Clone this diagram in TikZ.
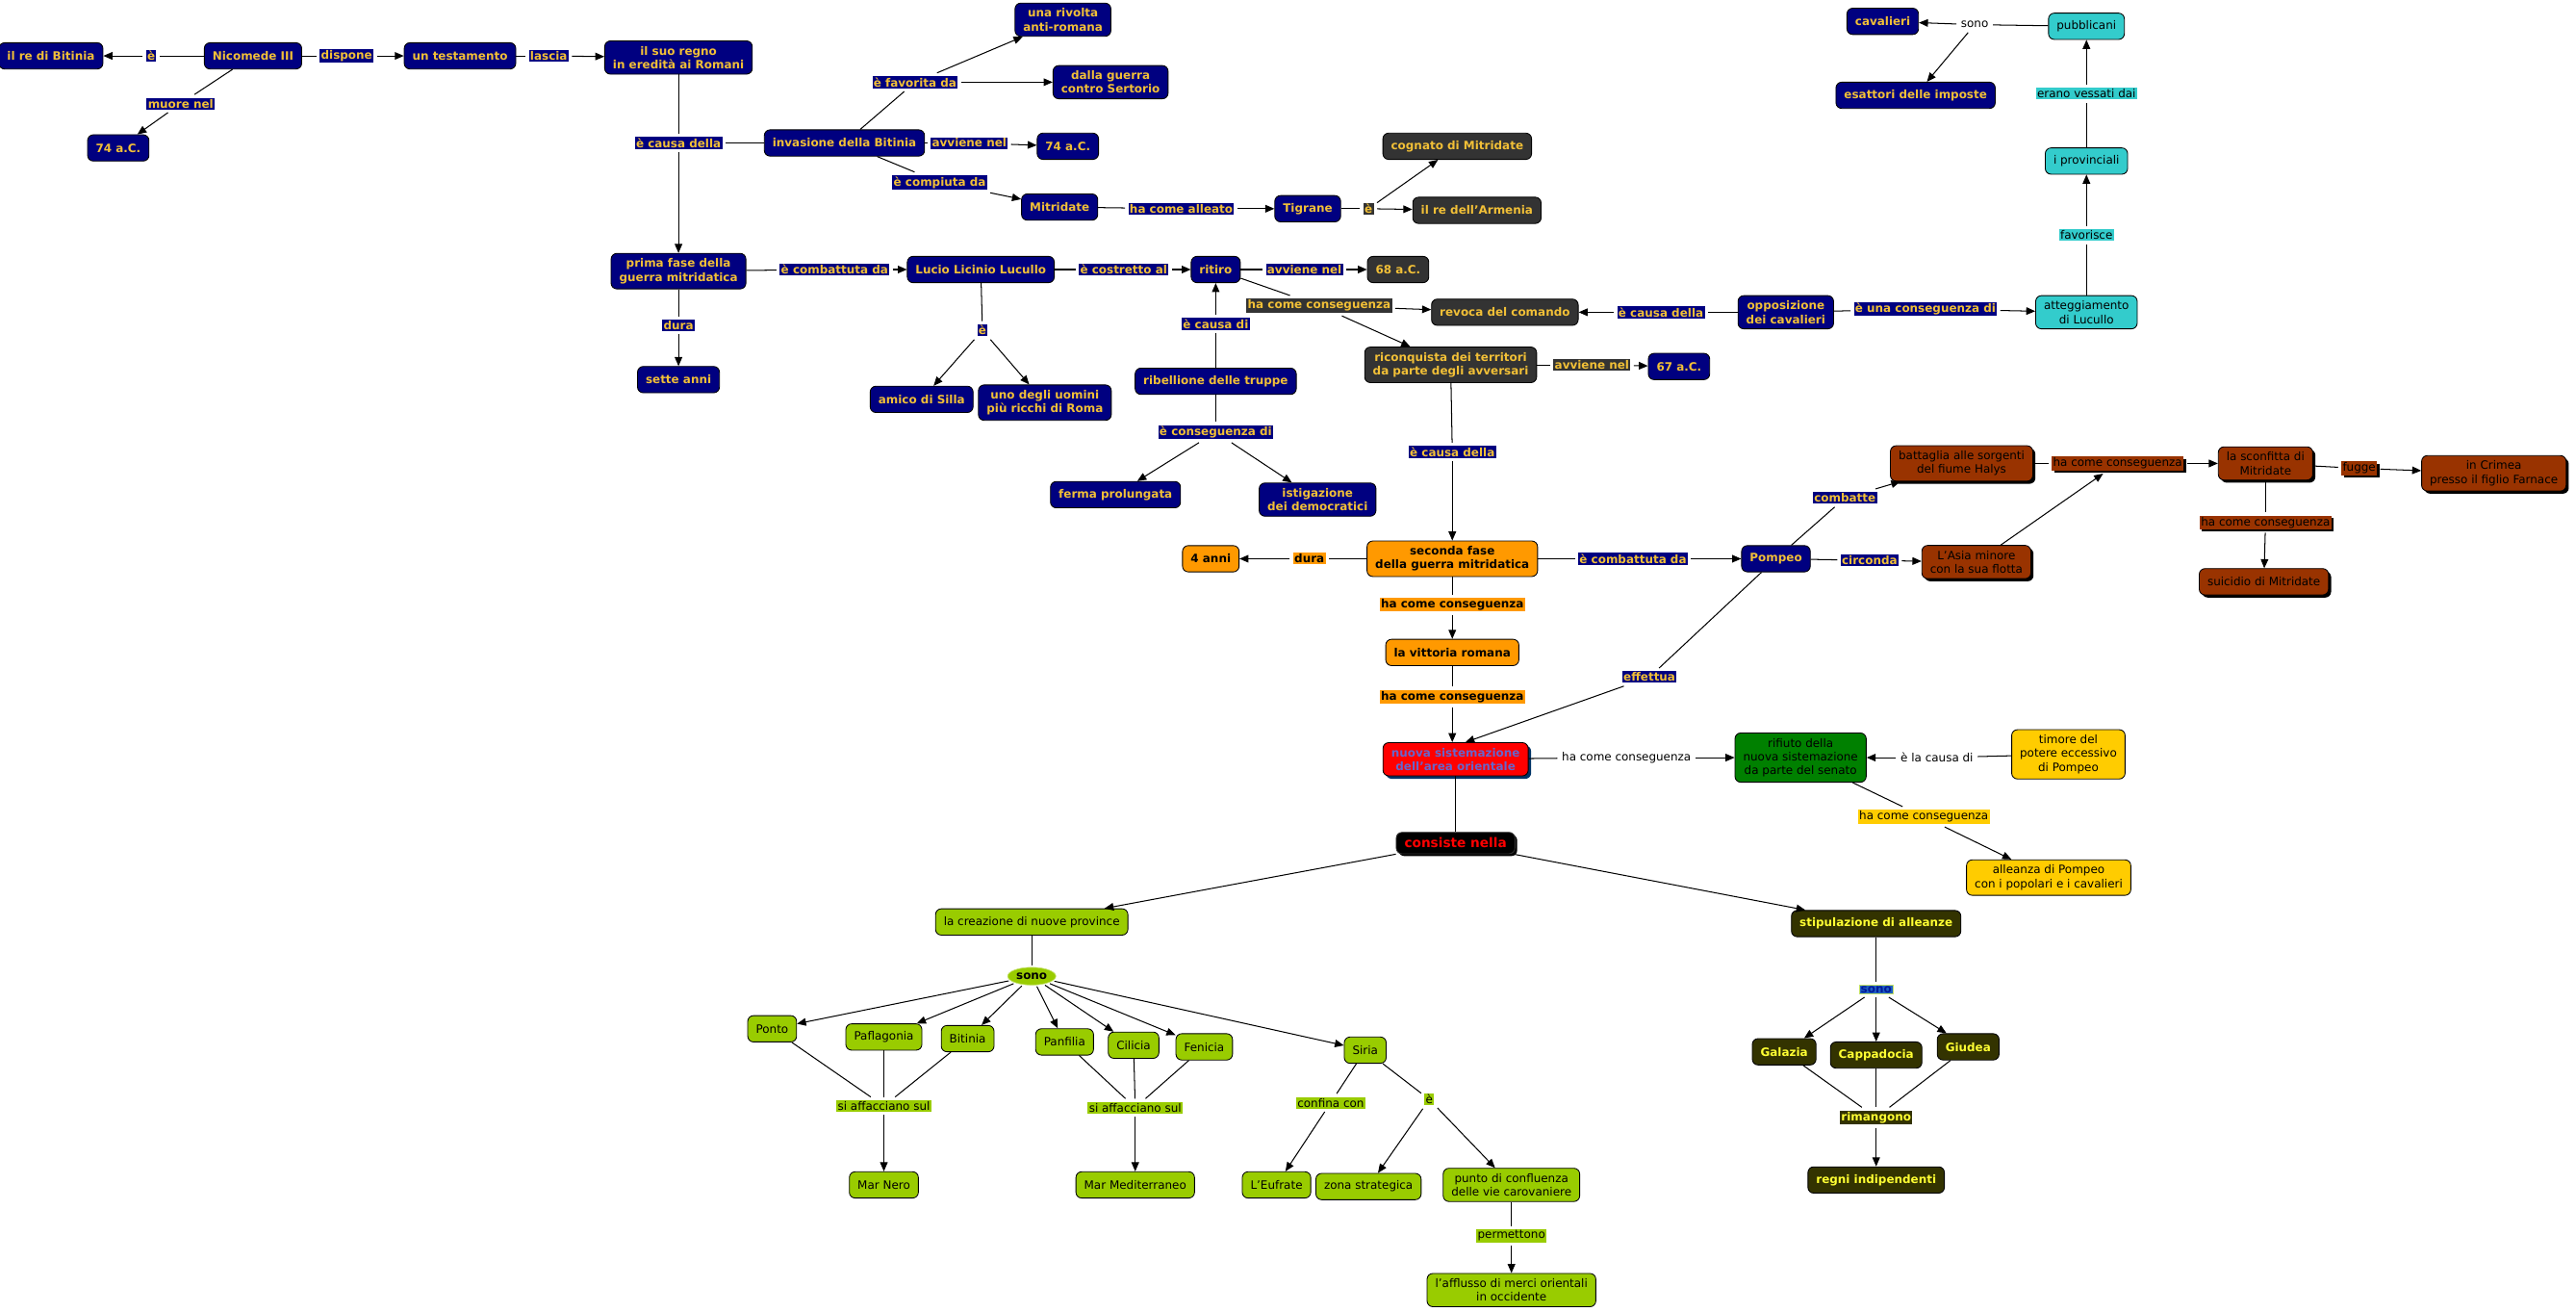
\documentclass[tikz,border=0pt]{standalone}
\usepackage{fontspec}
\setmainfont{DejaVu Sans}
\usetikzlibrary{arrows.meta,shadows,shapes.geometric}
\definecolor{mapnavy}{HTML}{000080}
\definecolor{mapgold}{HTML}{F2C037}
\definecolor{mapgray}{HTML}{333333}
\definecolor{mapcyan}{HTML}{33CCCC}
\definecolor{maporange}{HTML}{FF9900}
\definecolor{mapbrown}{HTML}{993300}
\definecolor{mapgreen}{HTML}{008000}
\definecolor{mapyellow}{HTML}{FFCC00}
\definecolor{mapolive}{HTML}{333300}
\definecolor{mapolivetext}{HTML}{FFFF33}
\definecolor{maplime}{HTML}{99CC00}
\definecolor{mapred}{HTML}{FF0000}
\definecolor{mapviolet}{HTML}{6666CC}
\definecolor{mapshadow}{HTML}{003366}
\definecolor{sonoblue}{HTML}{2060C0}
\definecolor{sonotext}{HTML}{001A99}

\begin{document}
\begin{tikzpicture}[
  x=1pt,
  y=-1pt,
  every node/.style={font=\fontsize{7}{8.4}\selectfont},
  concept/.style={draw=black,line width=0.5pt,rounded corners=3.5pt,align=center,
    inner xsep=5pt,inner ysep=3.2pt,minimum height=16pt},
  navybox/.style={concept,fill=mapnavy,text=mapgold,font=\fontsize{7}{8.4}\selectfont\bfseries},
  graybox/.style={concept,fill=mapgray,text=mapgold,font=\fontsize{7}{8.4}\selectfont\bfseries},
  cyanbox/.style={concept,fill=mapcyan,text=black},
  orangebox/.style={concept,fill=maporange,text=black,font=\fontsize{7}{8.4}\selectfont\bfseries},
  brownbox/.style={concept,fill=mapbrown,text=black,
    drop shadow={shadow xshift=1.6pt,shadow yshift=-1.6pt,opacity=1,fill=black}},
  greenbox/.style={concept,fill=mapgreen,text=black},
  yellowbox/.style={concept,fill=mapyellow,text=black},
  olivebox/.style={concept,fill=mapolive,text=mapolivetext,font=\fontsize{7}{8.4}\selectfont\bfseries},
  limebox/.style={concept,fill=maplime,text=black},
  redbox/.style={concept,fill=mapred,text=mapviolet,font=\fontsize{7}{8.4}\selectfont\bfseries,
    drop shadow={shadow xshift=1.8pt,shadow yshift=-1.8pt,opacity=1,fill=mapshadow}},
  link/.style={inner sep=0.8pt,outer sep=2pt,align=center},
  navylink/.style={link,fill=mapnavy,text=mapgold,font=\fontsize{7}{8.4}\selectfont\bfseries},
  graylink/.style={link,fill=mapgray,text=mapgold,font=\fontsize{7}{8.4}\selectfont\bfseries},
  cyanlink/.style={link,fill=mapcyan,text=black},
  orangelink/.style={link,fill=maporange,text=black,font=\fontsize{7}{8.4}\selectfont\bfseries},
  brownlink/.style={link,fill=mapbrown,text=black,
    drop shadow={shadow xshift=1.4pt,shadow yshift=-1.4pt,opacity=1,fill=black}},
  yellowlink/.style={link,fill=mapyellow,text=black},
  limelink/.style={link,fill=maplime,text=black},
  olivelink/.style={link,fill=mapolive,text=mapolivetext,font=\fontsize{7}{8.4}\selectfont\bfseries},
  plainlink/.style={link,fill=white,text=black},
  conn/.style={draw=black,line width=0.6pt},
  arr/.style={conn,-{Triangle[length=5.5pt,width=4.6pt]}}
]
  \useasboundingbox (0,0) rectangle (1568,798);

  % Nicomede and the will
  \node[navybox] (rebitinia) at (31,34) {il re di Bitinia};
  \node[navybox] (nicomede) at (154,34) {Nicomede III};
  \node[navybox] (testamento) at (280,34) {un testamento};
  \node[navybox] (regno) at (413,35) {il suo regno\\in eredità ai Romani};
  \node[navybox] (anno74a) at (72,90) {74 a.C.};
  \node[navylink] (l_e1) at (92,34) {è};
  \node[navylink] (l_dispone) at (211,34) {dispone};
  \node[navylink] (l_lascia) at (334,34) {lascia};
  \node[navylink] (l_muore) at (110,63) {muore nel};

  % First phase of the war
  \node[navylink] (l_causa1) at (413,87) {è causa della};
  \node[navybox] (invasione) at (514,87) {invasione della Bitinia};
  \node[navybox] (prima) at (413,165) {prima fase della\\guerra mitridatica};
  \node[navylink] (l_dura1) at (413,198) {dura};
  \node[navybox] (sette) at (413,231) {sette anni};
  \node[navylink] (l_favorita) at (557,50) {è favorita da};
  \node[navybox] (rivolta) at (647,12) {una rivolta\\anti-romana};
  \node[navybox] (sertorio) at (676,50) {dalla guerra\\contro Sertorio};
  \node[navylink] (l_avviene1) at (590,87) {avviene nel};
  \node[navybox] (anno74b) at (650,89) {74 a.C.};
  \node[navylink] (l_compiuta) at (572,111) {è compiuta da};
  \node[navybox] (mitridate) at (645,126) {Mitridate};
  \node[navylink] (l_alleato) at (719,127) {ha come alleato};
  \node[navybox] (tigrane) at (796,127) {Tigrane};
  \node[graylink] (l_e2) at (833,127) {è};
  \node[graybox] (cognato) at (887,89) {cognato di Mitridate};
  \node[graybox] (armenia) at (899,128) {il re dell'Armenia};

  % Lucullo
  \node[navylink] (l_combattuta1) at (508,164) {è combattuta da};
  \node[navybox] (lucullo) at (597,164) {Lucio Licinio Lucullo};
  \node[navylink] (l_costretto) at (684,164) {è costretto al};
  \node[navybox] (ritiro) at (740,164) {ritiro};
  \node[navylink] (l_avviene2) at (794,164) {avviene nel};
  \node[graybox] (anno68) at (851,164) {68 a.C.};
  \node[graylink] (l_conseg1) at (803,186) {ha come conseguenza};
  \node[graybox] (revoca) at (916,190) {revoca del comando};
  \node[graybox] (riconquista) at (883,222) {riconquista dei territori\\da parte degli avversari};
  \node[graylink] (l_avviene3) at (969,222) {avviene nel};
  \node[navybox] (anno67) at (1022,223) {67 a.C.};
  \node[navylink] (l_e3) at (598,201) {è};
  \node[navybox] (amico) at (561,243) {amico di Silla};
  \node[navybox] (uomini) at (636,245) {uno degli uomini\\più ricchi di Roma};
  \node[navylink] (l_causadi) at (740,197) {è causa di};
  \node[navybox] (ribellione) at (740,232) {ribellione delle truppe};
  \node[navylink] (l_conseguenzadi) at (740,263) {è conseguenza di};
  \node[navybox] (ferma) at (679,301) {ferma prolungata};
  \node[navybox] (istigazione) at (802,304) {istigazione\\dei democratici};

  % Knights and provincials
  \node[navylink] (l_causa2) at (1011,190) {è causa della};
  \node[navybox] (opposizione) at (1087,190) {opposizione\\dei cavalieri};
  \node[navylink] (l_unacons) at (1172,188) {è una conseguenza di};
  \node[cyanbox] (atteggiamento) at (1270,190) {atteggiamento\\di Lucullo};
  \node[cyanlink] (l_favorisce) at (1270,143) {favorisce};
  \node[cyanbox] (provinciali) at (1270,98) {i provinciali};
  \node[cyanlink] (l_vessati) at (1270,57) {erano vessati dai};
  \node[cyanbox] (pubblicani) at (1270,16) {pubblicani};
  \node[plainlink] (l_sono1) at (1202,15) {sono};
  \node[navybox] (cavalieri) at (1146,13) {cavalieri};
  \node[navybox] (esattori) at (1166,58) {esattori delle imposte};

  % Second phase and Pompeo
  \node[navylink] (l_causa3) at (884,275) {è causa della};
  \node[orangebox] (seconda) at (884,340) {seconda fase\\della guerra mitridatica};
  \node[orangelink] (l_dura2) at (797,340) {dura};
  \node[orangebox] (anni4) at (737,340) {4 anni};
  \node[navylink] (l_combattuta2) at (994,340) {è combattuta da};
  \node[navybox] (pompeo) at (1081,340) {Pompeo};
  \node[orangelink] (l_conseg2) at (884,368) {ha come conseguenza};
  \node[orangebox] (vittoria) at (884,397) {la vittoria romana};
  \node[orangelink] (l_conseg3) at (884,424) {ha come conseguenza};
  \node[redbox] (nuova) at (886,462) {nuova sistemazione\\dell'area orientale};
  \node[navylink] (l_effettua) at (1004,412) {effettua};
  \node[navylink] (l_combatte) at (1123,303) {combatte};
  \node[brownbox] (battaglia) at (1194,282) {battaglia alle sorgenti\\del fiume Halys};
  \node[navylink] (l_circonda) at (1138,341) {circonda};
  \node[brownbox] (asia) at (1203,342) {L'Asia minore\\con la sua flotta};
  \node[brownlink] (l_conseg4) at (1289,282) {ha come conseguenza};
  \node[brownbox] (sconfitta) at (1379,282) {la sconfitta di\\Mitridate};
  \node[brownlink] (l_fugge) at (1436,285) {fugge};
  \node[brownbox] (crimea) at (1518,288) {in Crimea\\presso il figlio Farnace};
  \node[brownlink] (l_conseg5) at (1379,318) {ha come conseguenza};
  \node[brownbox] (suicidio) at (1378,354) {suicidio di Mitridate};

  % Senate and alliances
  \node[plainlink] (l_conseg6) at (990,461) {ha come conseguenza};
  \node[greenbox] (rifiuto) at (1096,461) {rifiuto della\\nuova sistemazione\\da parte del senato};
  \node[plainlink] (l_lacausa) at (1179,461) {è la causa di};
  \node[yellowbox] (timore) at (1259,459) {timore del\\potere eccessivo\\di Pompeo};
  \node[yellowlink] (l_conseg7) at (1171,497) {ha come conseguenza};
  \node[yellowbox] (alleanza) at (1247,534) {alleanza di Pompeo\\con i popolari e i cavalieri};
  \node[concept,fill=black,draw=mapgray,text=mapred,font=\fontsize{8}{9.5}\selectfont\bfseries,
    inner ysep=1.5pt,minimum height=13pt,
    drop shadow={shadow xshift=1.4pt,shadow yshift=-1.4pt,opacity=1,fill=black}]
    (consiste) at (886,513) {consiste nella};

  % New provinces
  \node[limebox] (creazione) at (628,561) {la creazione di nuove province};
  \node[ellipse,fill=maplime,draw=maplime!55!white,inner xsep=1pt,inner ysep=1.8pt,
    outer sep=1pt,font=\fontsize{7}{8.4}\selectfont\bfseries] (l_sono2) at (628,594) {sono};
  \node[limebox] (ponto) at (470,626) {Ponto};
  \node[limebox] (paflagonia) at (538,631) {Paflagonia};
  \node[limebox] (bitinia) at (589,632) {Bitinia};
  \node[limebox] (panfilia) at (648,634) {Panfilia};
  \node[limebox] (cilicia) at (690,636) {Cilicia};
  \node[limebox] (fenicia) at (733,637) {Fenicia};
  \node[limebox] (siria) at (831,639) {Siria};
  \node[limelink] (l_affaccia1) at (538,673) {si affacciano sul};
  \node[limelink] (l_affaccia2) at (691,674) {si affacciano sul};
  \node[limebox] (marnero) at (538,721) {Mar Nero};
  \node[limebox] (marmed) at (691,721) {Mar Mediterraneo};
  \node[limelink] (l_confina) at (810,671) {confina con};
  \node[limelink] (l_e4) at (870,669) {è};
  \node[limebox] (eufrate) at (777,721) {L'Eufrate};
  \node[limebox] (strategica) at (833,722) {zona strategica};
  \node[limebox] (confluenza) at (920,721) {punto di confluenza\\delle vie carovaniere};
  \node[limelink] (l_permettono) at (920,752) {permettono};
  \node[limebox] (afflusso) at (920,785) {l'afflusso di merci orientali\\in occidente};

  % Allied kingdoms
  \node[olivebox] (stipulazione) at (1142,562) {stipulazione di alleanze};
  \node[link,fill=sonoblue,draw=maplime!60!white,text=sonotext,
    font=\fontsize{7}{8.4}\selectfont\bfseries] (l_sono3) at (1142,602) {sono};
  \node[olivebox] (galazia) at (1086,640) {Galazia};
  \node[olivebox] (cappadocia) at (1142,642) {Cappadocia};
  \node[olivebox] (giudea) at (1198,637) {Giudea};
  \node[olivelink] (l_rimangono) at (1142,680) {rimangono};
  \node[olivebox] (regni) at (1142,718) {regni indipendenti};

  % Connectors
  \draw[conn] (nicomede) -- (l_e1);
  \draw[arr] (l_e1) -- (rebitinia);
  \draw[conn] (nicomede) -- (l_dispone);
  \draw[arr] (l_dispone) -- (testamento);
  \draw[conn] (testamento) -- (l_lascia);
  \draw[arr] (l_lascia) -- (regno);
  \draw[conn] (nicomede) -- (l_muore);
  \draw[arr] (l_muore) -- (anno74a);
  \draw[conn] (regno) -- (l_causa1);
  \draw[conn] (invasione) -- (l_causa1);
  \draw[arr] (l_causa1) -- (prima);
  \draw[conn] (prima) -- (l_dura1);
  \draw[arr] (l_dura1) -- (sette);
  \draw[conn] (invasione) -- (l_favorita);
  \draw[arr] (l_favorita) -- (rivolta);
  \draw[arr] (l_favorita) -- (sertorio);
  \draw[conn] (invasione) -- (l_avviene1);
  \draw[arr] (l_avviene1) -- (anno74b);
  \draw[conn] (invasione) -- (l_compiuta);
  \draw[arr] (l_compiuta) -- (mitridate);
  \draw[conn] (mitridate) -- (l_alleato);
  \draw[arr] (l_alleato) -- (tigrane);
  \draw[conn] (tigrane) -- (l_e2);
  \draw[arr] (l_e2) -- (cognato);
  \draw[arr] (l_e2) -- (armenia);
  \draw[conn] (prima) -- (l_combattuta1);
  \draw[arr] (l_combattuta1) -- (lucullo);
  \draw[conn] (lucullo) -- (l_costretto);
  \draw[arr] (l_costretto) -- (ritiro);
  \draw[conn] (ritiro) -- (l_avviene2);
  \draw[arr] (l_avviene2) -- (anno68);
  \draw[conn] (ritiro) -- (l_conseg1);
  \draw[arr] (l_conseg1) -- (revoca);
  \draw[arr] (l_conseg1) -- (riconquista);
  \draw[conn] (lucullo) -- (l_e3);
  \draw[arr] (l_e3) -- (amico);
  \draw[arr] (l_e3) -- (uomini);
  \draw[conn] (ribellione) -- (l_causadi);
  \draw[arr] (l_causadi) -- (ritiro);
  \draw[conn] (ribellione) -- (l_conseguenzadi);
  \draw[arr] (l_conseguenzadi) -- (ferma);
  \draw[arr] (l_conseguenzadi) -- (istigazione);
  \draw[conn] (opposizione) -- (l_causa2);
  \draw[arr] (l_causa2) -- (revoca);
  \draw[conn] (riconquista) -- (l_avviene3);
  \draw[arr] (l_avviene3) -- (anno67);
  \draw[conn] (riconquista) -- (l_causa3);
  \draw[arr] (l_causa3) -- (seconda);
  \draw[conn] (opposizione) -- (l_unacons);
  \draw[arr] (l_unacons) -- (atteggiamento);
  \draw[conn] (atteggiamento) -- (l_favorisce);
  \draw[arr] (l_favorisce) -- (provinciali);
  \draw[conn] (provinciali) -- (l_vessati);
  \draw[arr] (l_vessati) -- (pubblicani);
  \draw[conn] (pubblicani) -- (l_sono1);
  \draw[arr] (l_sono1) -- (cavalieri);
  \draw[arr] (l_sono1) -- (esattori);
  \draw[conn] (seconda) -- (l_dura2);
  \draw[arr] (l_dura2) -- (anni4);
  \draw[conn] (seconda) -- (l_combattuta2);
  \draw[arr] (l_combattuta2) -- (pompeo);
  \draw[conn] (seconda) -- (l_conseg2);
  \draw[arr] (l_conseg2) -- (vittoria);
  \draw[conn] (vittoria) -- (l_conseg3);
  \draw[arr] (l_conseg3) -- (l_conseg3 |- nuova.north);
  \draw[conn] (pompeo) -- (l_effettua);
  \draw[arr] (l_effettua) -- ([xshift=6pt]nuova.north);
  \draw[conn] (pompeo) -- (l_combatte);
  \draw[arr] (l_combatte) -- (battaglia);
  \draw[conn] (pompeo) -- (l_circonda);
  \draw[arr] (l_circonda) -- (asia);
  \draw[conn] (battaglia) -- (l_conseg4);
  \draw[arr] (asia) -- (l_conseg4);
  \draw[arr] (l_conseg4) -- (sconfitta);
  \draw[conn] (sconfitta) -- (l_fugge);
  \draw[arr] (l_fugge) -- (crimea);
  \draw[conn] (sconfitta) -- (l_conseg5);
  \draw[arr] (l_conseg5) -- (suicidio);
  \draw[conn] (nuova) -- (l_conseg6);
  \draw[arr] (l_conseg6) -- (rifiuto);
  \draw[conn] (timore) -- (l_lacausa);
  \draw[arr] (l_lacausa) -- (rifiuto);
  \draw[conn] (rifiuto) -- (l_conseg7);
  \draw[arr] (l_conseg7) -- (alleanza);
  \draw[conn] (nuova) -- (consiste);
  \draw[arr] (consiste) -- (creazione);
  \draw[arr] (consiste) -- (stipulazione);
  \draw[conn] (creazione) -- (l_sono2);
  \foreach \p in {ponto,paflagonia,bitinia,panfilia,cilicia,fenicia,siria} {
    \draw[arr] (l_sono2) -- (\p);
  }
  \foreach \p in {ponto,paflagonia,bitinia} {
    \draw[conn] (\p) -- (l_affaccia1);
  }
  \draw[arr] (l_affaccia1) -- (marnero);
  \foreach \p in {panfilia,cilicia,fenicia} {
    \draw[conn] (\p) -- (l_affaccia2);
  }
  \draw[arr] (l_affaccia2) -- (marmed);
  \draw[conn] (siria) -- (l_confina);
  \draw[arr] (l_confina) -- (eufrate);
  \draw[conn] (siria) -- (l_e4);
  \draw[arr] (l_e4) -- (strategica);
  \draw[arr] (l_e4) -- (confluenza);
  \draw[conn] (confluenza) -- (l_permettono);
  \draw[arr] (l_permettono) -- (afflusso);
  \draw[conn] (stipulazione) -- (l_sono3);
  \foreach \p in {galazia,cappadocia,giudea} {
    \draw[arr] (l_sono3) -- (\p);
    \draw[conn] (\p) -- (l_rimangono);
  }
  \draw[arr] (l_rimangono) -- (regni);
\end{tikzpicture}
\end{document}
